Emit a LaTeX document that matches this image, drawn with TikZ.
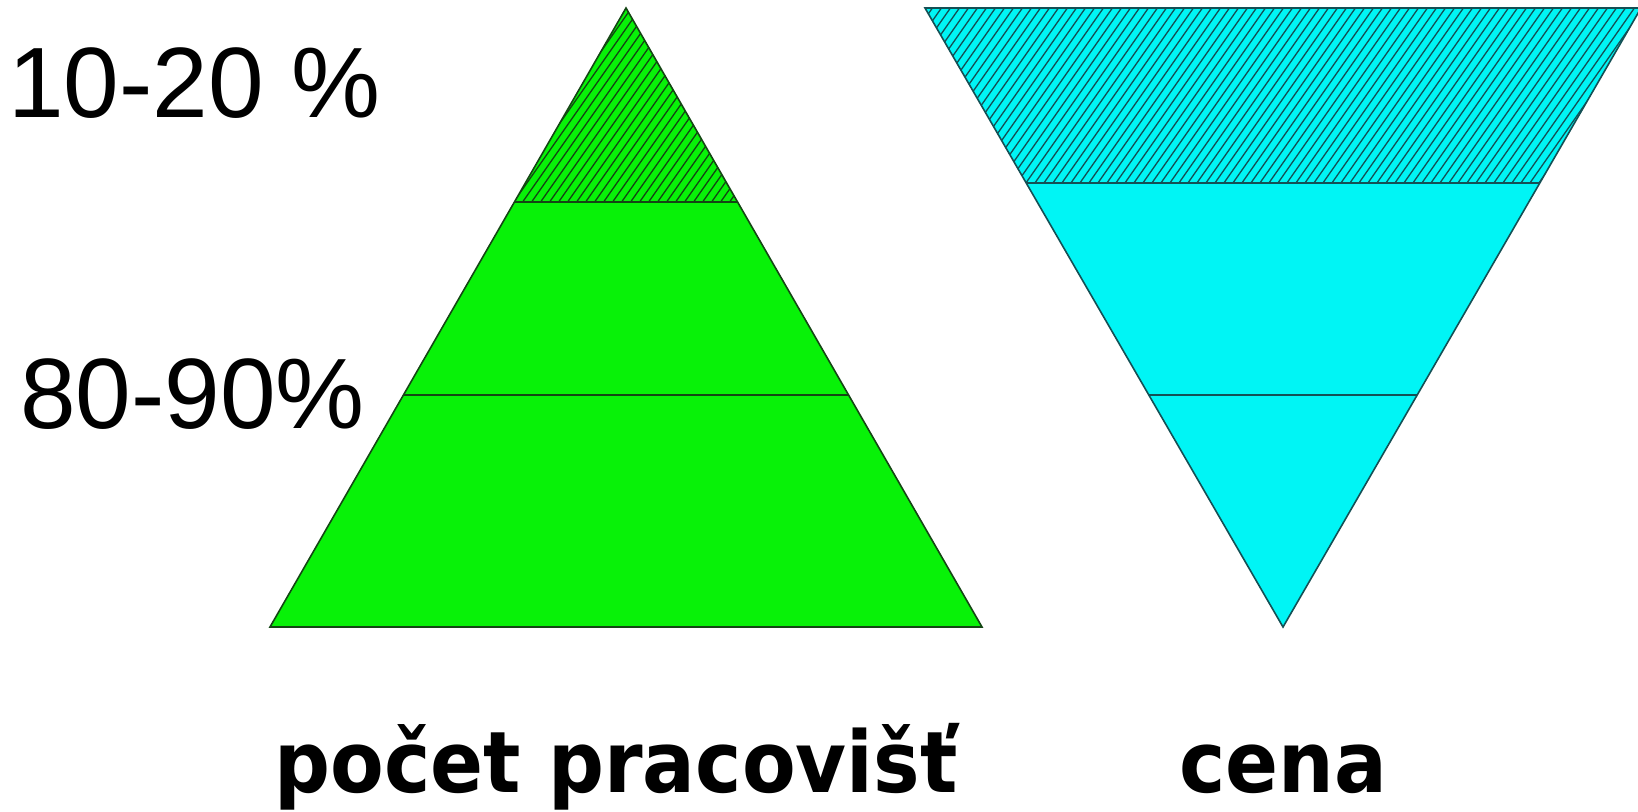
\documentclass[tikz,border=0pt]{standalone}
\usepackage{fontspec}
\usepackage{graphicx}
\usepackage{tikz}
\usetikzlibrary{calc}
\newfontfamily\labelfont{Liberation Sans}
\newfontfamily\captionfont{DejaVu Sans}
\definecolor{PyramidGreen}{RGB}{8, 242, 8}
\definecolor{PyramidCyan}{RGB}{0, 245, 245}
\definecolor{EdgeGreen}{RGB}{20, 70, 20}
\definecolor{EdgeCyan}{RGB}{20, 80, 85}
\newcommand{\squeezed}[1]{\scalebox{0.92}[1]{#1}}
\tikzset{
  pct/.style={font=\labelfont\fontsize{100}{100}\selectfont, anchor=base west, inner sep=0pt},
  caption/.style={font=\captionfont\bfseries\fontsize{85}{85}\selectfont, anchor=base, inner sep=0pt},
  hatchline/.style={line width=1.3pt},
}

\begin{document}
\begin{tikzpicture}[x=1pt, y=-1pt]
    \useasboundingbox (0,0) rectangle (1638,811);
    \clip (0,0) rectangle (1638,811);

    % Corners
    \coordinate (gtop) at (626,8);
    \coordinate (gleft) at (270,627);
    \coordinate (gright) at (982,627);
    \coordinate (cleft) at (925,8);
    \coordinate (cright) at (1641,8);
    \coordinate (cbot) at (1283,627);

    % Band borders
    \coordinate (g1l) at ($(gtop)!{194/619}!(gleft)$);
    \coordinate (g1r) at ($(gtop)!{194/619}!(gright)$);
    \coordinate (g2l) at ($(gtop)!{387/619}!(gleft)$);
    \coordinate (g2r) at ($(gtop)!{387/619}!(gright)$);
    \coordinate (c1l) at ($(cleft)!{175/619}!(cbot)$);
    \coordinate (c1r) at ($(cright)!{175/619}!(cbot)$);
    \coordinate (c2l) at ($(cleft)!{387/619}!(cbot)$);
    \coordinate (c2r) at ($(cright)!{387/619}!(cbot)$);

    % Pyramid
    \fill[PyramidGreen] (gtop) -- (gleft) -- (gright) -- cycle;
    \begin{scope}
      \clip (gtop) -- (g1l) -- (g1r) -- cycle;
      \foreach \i in {400,409,...,760}
        \draw[hatchline, EdgeGreen] (\i,210) -- ++(147,-210);
    \end{scope}
    \draw[EdgeGreen, line width=1.6pt] (gtop) -- (gleft) -- (gright) -- cycle;
    \draw[EdgeGreen, line width=1.6pt] (g1l) -- (g1r);
    \draw[EdgeGreen, line width=1.6pt] (g2l) -- (g2r);

    % Inverted pyramid
    \fill[PyramidCyan] (cleft) -- (cright) -- (cbot) -- cycle;
    \begin{scope}
      \clip (cleft) -- (cright) -- (c1r) -- (c1l) -- cycle;
      \foreach \i in {760,769,...,1660}
        \draw[hatchline, EdgeCyan] (\i,190) -- ++(133,-190);
    \end{scope}
    \draw[EdgeCyan, line width=1.6pt] (cleft) -- (cright) -- (cbot) -- cycle;
    \draw[EdgeCyan, line width=1.6pt] (c1l) -- (c1r);
    \draw[EdgeCyan, line width=1.6pt] (c2l) -- (c2r);

    % Percent labels
    \node[pct] (top share) at (8,117) {10-20 \%};
    \node[pct] (low share) at (20,428) {80-90\%};

    % Captions
    \node[caption] (places) at (616,792) {\squeezed{počet pracovišť}};
    \node[caption] (price) at (1283,792) {\squeezed{cena}};
\end{tikzpicture}
\end{document}
